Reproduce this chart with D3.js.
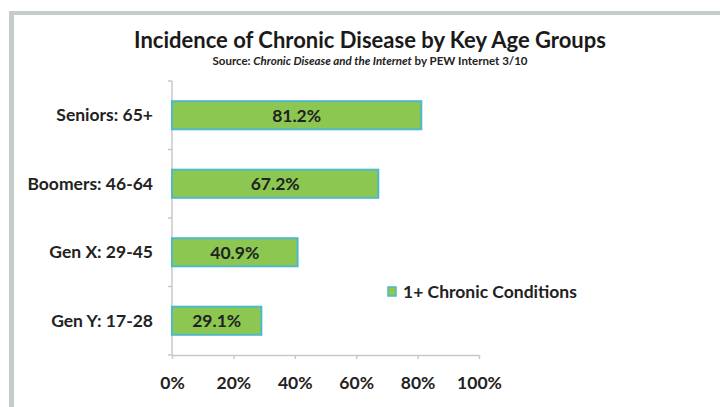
<!DOCTYPE html>
<html><head><meta charset="utf-8">
<script src="https://cdn.jsdelivr.net/npm/d3@7"></script>
<style>
body{margin:0;background:#fff;}
svg{display:block;font-family:Lato,"Open Sans",sans-serif;}
</style></head>
<body><svg id="c" width="720" height="407"></svg>
<script>
const categories = ["Seniors: 65+", "Boomers: 46-64", "Gen X: 29-45", "Gen Y: 17-28"];
const values = [81.2, 67.2, 40.9, 29.1];
const seriesName = "1+ Chronic Conditions";
const xTicks = [0, 20, 40, 60, 80, 100];

const FS = 17.5;
const svg = d3.select("#c");
// frame
svg.append("rect").attr("x", 9).attr("y", 11).attr("width", 5).attr("height", 400).attr("fill", "#c6cbcb");
svg.append("rect").attr("x", 9).attr("y", 11).attr("width", 720).attr("height", 4).attr("fill", "#c6cbcb");

const x = d3.scaleLinear().domain([0, 100]).range([172, 479]);
const y = d3.scaleBand().domain(categories).range([81, 355]).paddingInner(0.59).paddingOuter(0.295);

// title
svg.append("text").attr("x", 370).attr("y", 48).attr("text-anchor", "middle")
  .attr("font-size", 22).attr("font-weight", "bold").attr("fill", "#1a1a1a")
  .text("Incidence of Chronic Disease by Key Age Groups");
const sub = svg.append("text").attr("x", 370).attr("y", 65).attr("text-anchor", "middle")
  .attr("font-size", 11.5).attr("font-weight", "bold").attr("fill", "#222");
sub.append("tspan").text("Source: ");
sub.append("tspan").attr("font-style", "italic").text("Chronic Disease and the Internet");
sub.append("tspan").text(" by PEW Internet 3/10");

// axes
const gx = svg.append("g").attr("transform", "translate(0,355)")
  .call(d3.axisBottom(x).tickValues(xTicks).tickSize(4).tickSizeOuter(0).tickFormat(d => d + "%"));
gx.select(".domain").attr("stroke", "#c8c8c8").attr("stroke-width", 1.5);
gx.selectAll(".tick line").attr("stroke", "#c8c8c8").attr("stroke-width", 1.5);
gx.selectAll(".tick text").attr("font-size", FS).attr("font-weight", "bold").attr("fill", "#222")
  .attr("font-family", "Lato,'Open Sans',sans-serif").attr("y", 22);

const gy = svg.append("g").attr("transform", "translate(172,0)");
gy.append("line").attr("x1", 0).attr("x2", 0).attr("y1", 81).attr("y2", 355).attr("stroke", "#c8c8c8").attr("stroke-width", 1.5);
const bounds = [81].concat(categories.map(c => y(c) + y.bandwidth() / 2 + y.step() / 2));
gy.selectAll("line.t").data(bounds).join("line").attr("class", "t")
  .attr("x1", -4).attr("x2", 0).attr("y1", d => d).attr("y2", d => d)
  .attr("stroke", "#c8c8c8").attr("stroke-width", 1.5);

svg.selectAll("text.cat").data(categories).join("text").attr("class", "cat")
  .attr("x", 153).attr("y", d => y(d) + y.bandwidth() / 2).attr("dy", "0.35em")
  .attr("text-anchor", "end").attr("font-size", FS).attr("font-weight", "bold").attr("fill", "#222")
  .text(d => d);

// bars
svg.selectAll("rect.bar").data(values).join("rect").attr("class", "bar")
  .attr("x", x(0)).attr("y", (d, i) => y(categories[i]))
  .attr("width", d => x(d) - x(0)).attr("height", y.bandwidth())
  .attr("fill", "#8cc751").attr("stroke", "#4fb9c5").attr("stroke-width", 2);

svg.selectAll("text.val").data(values).join("text").attr("class", "val")
  .attr("x", d => (x(0) + x(d)) / 2).attr("y", (d, i) => y(categories[i]) + y.bandwidth() / 2).attr("dy", "0.36em")
  .attr("text-anchor", "middle").attr("font-size", FS).attr("font-weight", "bold").attr("fill", "#222")
  .text(d => d.toFixed(1) + "%");

// legend
svg.append("rect").attr("x", 388).attr("y", 287).attr("width", 8).attr("height", 9)
  .attr("fill", "#8cc751").attr("stroke", "#4fb9c5").attr("stroke-width", 1.5);
svg.append("text").attr("x", 403).attr("y", 292).attr("dy", "0.36em")
  .attr("font-size", FS).attr("font-weight", "bold").attr("fill", "#222").text(seriesName);
</script></body></html>
